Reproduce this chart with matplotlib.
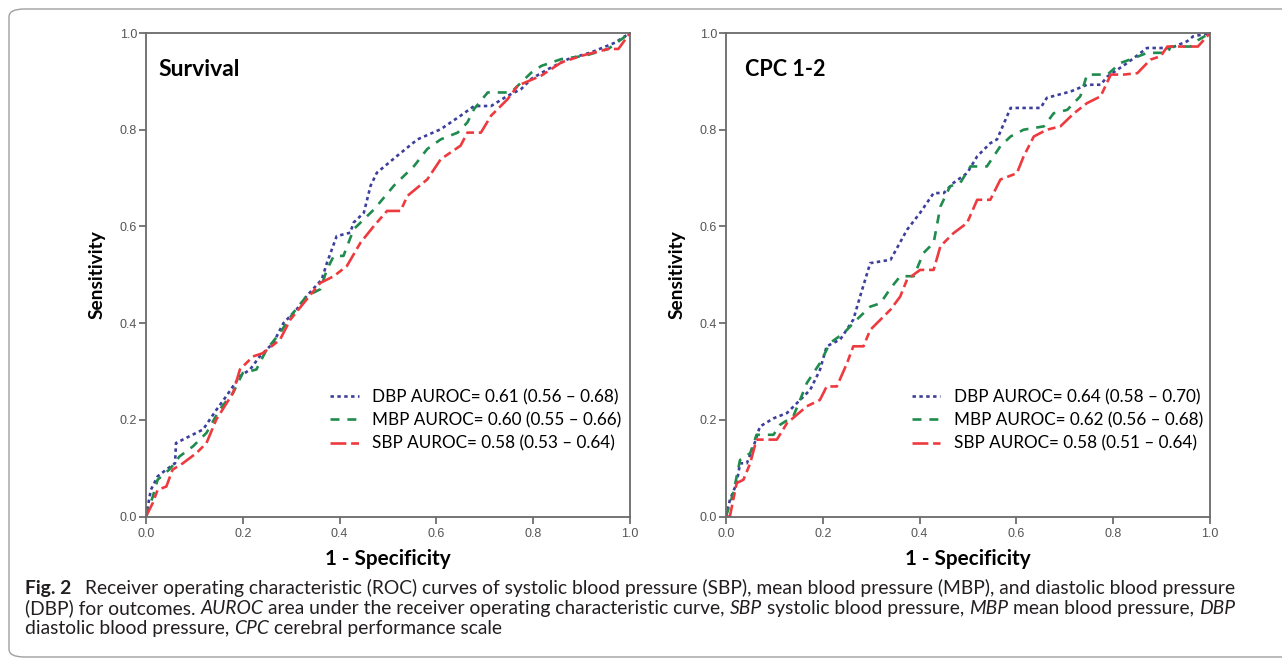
import matplotlib
matplotlib.use("Agg")
import matplotlib.pyplot as plt
from matplotlib.patches import FancyBboxPatch
from matplotlib.lines import Line2D

# ---------------- data ----------------
surv_dbp_x = [0, 0.01, 0.024, 0.042, 0.06, 0.062, 0.09, 0.118, 0.145, 0.166, 0.194, 0.215, 0.235, 0.263, 0.284,
              0.311, 0.332, 0.363, 0.374, 0.394, 0.422, 0.429, 0.45, 0.464, 0.477, 0.519, 0.561, 0.609, 0.65,
              0.678, 0.713, 0.747, 0.775, 0.796, 0.83, 0.872, 0.92, 0.969, 1.0]
surv_dbp_y = [0, 0.055, 0.083, 0.097, 0.11, 0.152, 0.166, 0.18, 0.22, 0.249, 0.29, 0.304, 0.331, 0.359, 0.40,
              0.428, 0.456, 0.49, 0.525, 0.58, 0.587, 0.608, 0.628, 0.684, 0.711, 0.746, 0.78, 0.801, 0.829,
              0.849, 0.849, 0.87, 0.884, 0.905, 0.925, 0.946, 0.96, 0.98, 1.0]

surv_mbp_x = [0, 0.014, 0.024, 0.048, 0.059, 0.069, 0.097, 0.125, 0.152, 0.18, 0.2, 0.228, 0.249, 0.277, 0.304,
              0.332, 0.36, 0.374, 0.388, 0.408, 0.429, 0.471, 0.512, 0.554, 0.581, 0.609, 0.644, 0.664, 0.678,
              0.706, 0.754, 0.796, 0.817, 0.858, 0.907, 0.955, 1.0]
surv_mbp_y = [0, 0.041, 0.076, 0.097, 0.11, 0.124, 0.145, 0.173, 0.221, 0.256, 0.297, 0.304, 0.345, 0.38, 0.421,
              0.456, 0.47, 0.511, 0.539, 0.539, 0.594, 0.635, 0.684, 0.725, 0.76, 0.78, 0.794, 0.815, 0.843,
              0.877, 0.877, 0.918, 0.932, 0.946, 0.953, 0.967, 1.0]

surv_sbp_x = [0, 0.014, 0.024, 0.042, 0.055, 0.076, 0.104, 0.125, 0.145, 0.18, 0.194, 0.221, 0.242, 0.277, 0.298,
              0.332, 0.36, 0.388, 0.415, 0.443, 0.471, 0.498, 0.526, 0.54, 0.581, 0.609, 0.65, 0.664, 0.692,
              0.713, 0.747, 0.768, 0.817, 0.858, 0.9, 0.955, 0.976, 1.0]
surv_sbp_y = [0, 0.028, 0.055, 0.062, 0.097, 0.11, 0.131, 0.152, 0.2, 0.256, 0.304, 0.331, 0.338, 0.366, 0.407,
              0.449, 0.483, 0.497, 0.518, 0.566, 0.601, 0.632, 0.632, 0.663, 0.697, 0.739, 0.767, 0.794, 0.794,
              0.829, 0.863, 0.891, 0.912, 0.939, 0.953, 0.967, 0.967, 1.0]

cpc_dbp_x = [0, 0.008, 0.022, 0.029, 0.043, 0.057, 0.07, 0.098, 0.126, 0.153, 0.174, 0.194, 0.208, 0.236, 0.263,
             0.277, 0.298, 0.34, 0.374, 0.401, 0.429, 0.45, 0.47, 0.498, 0.519, 0.546, 0.56, 0.588, 0.65, 0.663,
             0.712, 0.746, 0.774, 0.788, 0.829, 0.87, 0.919, 0.953, 0.965, 1.0]
cpc_dbp_y = [0, 0.034, 0.069, 0.11, 0.11, 0.145, 0.186, 0.203, 0.214, 0.241, 0.262, 0.303, 0.352, 0.366, 0.407,
             0.455, 0.524, 0.531, 0.593, 0.628, 0.669, 0.669, 0.69, 0.71, 0.745, 0.772, 0.78, 0.845, 0.845, 0.866,
             0.879, 0.893, 0.893, 0.91, 0.938, 0.969, 0.969, 0.983, 0.993, 1.0]

cpc_mbp_x = [0, 0.015, 0.029, 0.05, 0.063, 0.098, 0.112, 0.139, 0.153, 0.167, 0.194, 0.215, 0.243, 0.27, 0.298,
             0.319, 0.34, 0.36, 0.388, 0.408, 0.429, 0.443, 0.463, 0.484, 0.505, 0.539, 0.567, 0.588, 0.615,
             0.657, 0.677, 0.705, 0.732, 0.746, 0.788, 0.815, 0.843, 0.87, 0.912, 0.919, 0.96, 0.975, 1.0]
cpc_mbp_y = [0, 0.048, 0.117, 0.131, 0.169, 0.169, 0.19, 0.207, 0.241, 0.276, 0.317, 0.359, 0.379, 0.407, 0.434,
             0.441, 0.472, 0.497, 0.497, 0.545, 0.566, 0.641, 0.683, 0.69, 0.724, 0.724, 0.766, 0.786, 0.8,
             0.807, 0.834, 0.841, 0.869, 0.914, 0.914, 0.938, 0.948, 0.959, 0.959, 0.972, 0.972, 0.985, 1.0]

cpc_sbp_x = [0, 0.008, 0.022, 0.036, 0.05, 0.063, 0.105, 0.126, 0.167, 0.194, 0.208, 0.229, 0.25, 0.263, 0.284,
             0.298, 0.34, 0.36, 0.374, 0.401, 0.429, 0.443, 0.47, 0.498, 0.519, 0.546, 0.567, 0.601, 0.615,
             0.636, 0.663, 0.691, 0.719, 0.746, 0.774, 0.795, 0.822, 0.85, 0.877, 0.898, 0.912, 0.953, 0.975, 1.0]
cpc_sbp_y = [0, 0.0, 0.069, 0.076, 0.11, 0.159, 0.159, 0.193, 0.228, 0.241, 0.269, 0.269, 0.317, 0.352, 0.352,
             0.386, 0.428, 0.455, 0.49, 0.51, 0.51, 0.559, 0.586, 0.607, 0.655, 0.655, 0.697, 0.71, 0.745,
             0.786, 0.8, 0.807, 0.834, 0.855, 0.869, 0.914, 0.914, 0.917, 0.945, 0.952, 0.972, 0.972, 0.972, 1.0]

surv_labels = ["DBP AUROC= 0.61 (0.56 \u2013 0.68)", "MBP AUROC= 0.60 (0.55 \u2013 0.66)",
               "SBP AUROC= 0.58 (0.53 \u2013 0.64)"]
cpc_labels = ["DBP AUROC= 0.64 (0.58 \u2013 0.70)", "MBP AUROC= 0.62 (0.56 \u2013 0.68)",
              "SBP AUROC= 0.58 (0.51 \u2013 0.64)"]
panel_titles = ["Survival", "CPC 1-2"]
tick_vals = [0.0, 0.2, 0.4, 0.6, 0.8, 1.0]
tick_labels = ["0.0", "0.2", "0.4", "0.6", "0.8", "1.0"]

# caption segments: (text, style, space_before)
caption_lines = [
    [("Fig. 2", "bold", False), ("Receiver operating characteristic (ROC) curves of systolic blood pressure (SBP), "
                                 "mean blood pressure (MBP), and diastolic blood pressure", "normal", "wide")],
    [("(DBP) for outcomes.", "normal", False), ("AUROC", "italic", True),
     ("area under the receiver operating characteristic curve,", "normal", True), ("SBP", "italic", True),
     ("systolic blood pressure,", "normal", True), ("MBP", "italic", True),
     ("mean blood pressure,", "normal", True), ("DBP", "italic", True)],
    [("diastolic blood pressure,", "normal", False), ("CPC", "italic", True),
     ("cerebral performance scale", "normal", True)],
]

# ---------------- styling ----------------
W, H = 1282, 659
FONT = "Lato"
TICKFONT = "Liberation Sans"
colors = {"DBP": "#3d3f9c", "MBP": "#1f8b4d", "SBP": "#ee3a3f"}
styles = {"DBP": (0, (1.3, 1.3)), "MBP": (0, (3.4, 3.0)), "SBP": (0, (6.0, 1.8, 3.0, 1.8))}

fig = plt.figure(figsize=(W / 100, H / 100), dpi=100)
renderer = fig.canvas.get_renderer()


def fx(px):
    return px / W


def fy(py):
    return 1 - py / H


def text_width(s, **kw):
    t = fig.text(0, 0, s, **kw)
    w = t.get_window_extent(renderer).width
    t.remove()
    return w


def fit_size(s, target_px, base=12, **kw):
    return base * target_px / text_width(s, fontsize=base, **kw)


border = FancyBboxPatch((fx(9), fy(657)), fx(1300), (657 - 9) / H,
                        boxstyle="round,pad=0,rounding_size=0.012",
                        transform=fig.transFigure, fill=False, edgecolor="#a0a0a0", linewidth=1.0)
fig.patches.append(border)

ax_left_px = [146, 726]
ax_w_px = 484
ax_top_px, ax_bot_px = 33, 516.5
ax_h_px = ax_bot_px - ax_top_px
datasets = [
    [(surv_dbp_x, surv_dbp_y), (surv_mbp_x, surv_mbp_y), (surv_sbp_x, surv_sbp_y)],
    [(cpc_dbp_x, cpc_dbp_y), (cpc_mbp_x, cpc_mbp_y), (cpc_sbp_x, cpc_sbp_y)],
]
label_sets = [surv_labels, cpc_labels]
title_widths = [81, 80]
title_x_px = [158, 745]

leg_size = fit_size(surv_labels[0], 246, family=FONT)
xlab_size = fit_size("1 - Specificity", 125, family=FONT, fontweight="bold")
ylab_size = fit_size("Sensitivity", 88, family=FONT, fontweight="bold")

for i, lx in enumerate(ax_left_px):
    ax = fig.add_axes([fx(lx), fy(ax_bot_px), fx(ax_w_px), ax_h_px / H])
    for key, (xs, ys), lab in zip(["DBP", "MBP", "SBP"], datasets[i], label_sets[i]):
        ax.plot(xs, ys, color=colors[key], linestyle=styles[key], linewidth=1.9, label=lab)
    ax.set_xlim(0, 1)
    ax.set_ylim(0, 1)
    ax.set_xticks(tick_vals)
    ax.set_yticks(tick_vals)
    ax.set_xticklabels(tick_labels, fontfamily=TICKFONT, fontsize=9, color="#555555")
    ax.set_yticklabels(tick_labels, fontfamily=TICKFONT, fontsize=9, color="#555555")
    ax.tick_params(direction="out", length=5, width=1.1, color="#555555", pad=1.5)
    ax.tick_params(axis="x", pad=3.5)
    for s in ax.spines.values():
        s.set_color("#6a6a6a")
        s.set_linewidth(1.3)
    ax.set_xlabel("1 - Specificity", fontfamily=FONT, fontweight="bold", fontsize=xlab_size, labelpad=6)
    ax.set_ylabel("Sensitivity", fontfamily=FONT, fontweight="bold", fontsize=ylab_size, labelpad=10)
    tsize = fit_size(panel_titles[i], title_widths[i], family=FONT, fontweight="bold")
    ax.text((title_x_px[i] - lx) / ax_w_px, 0.925, panel_titles[i],
            transform=ax.transAxes, fontsize=tsize, fontweight="bold", fontfamily=FONT,
            va="center", ha="left")
    handles = [Line2D([], [], color=colors[k], linestyle=styles[k], linewidth=1.9)
               for k in ["DBP", "MBP", "SBP"]]
    leg_x = 0.381 if i == 0 else 0.384
    ax.legend(handles, label_sets[i], loc="upper left",
              bbox_to_anchor=(leg_x, (ax_bot_px - 389) / ax_h_px),
              frameon=False, prop={"family": FONT, "size": leg_size}, handlelength=1.65,
              handletextpad=0.8, labelspacing=0.42, borderpad=0, borderaxespad=0)

# ---------------- caption ----------------
def seg_kw(style, size):
    kw = {"family": FONT, "fontsize": size, "color": "#231f20"}
    if style == "bold":
        kw["fontweight"] = "bold"
    elif style == "italic":
        kw["fontstyle"] = "italic"
    return kw


def line_width(segs, size):
    sp = text_width("x x", fontsize=size, family=FONT) - text_width("xx", fontsize=size, family=FONT)
    total = 0
    for txt, style, space in segs:
        if space == "wide":
            total += size * 100 / 72 * 0.7
        elif space:
            total += sp
        total += text_width(txt, **seg_kw(style, size))
    return total, sp


base = 11
w0, _ = line_width(caption_lines[0], base)
cap_size = base * (1235 - 25) / w0
em = cap_size * 100 / 72
_, space_w = line_width([], cap_size)
line_centers = [587, 607, 627]
for segs, yc in zip(caption_lines, line_centers):
    x = 25
    for txt, style, space in segs:
        if space == "wide":
            x += em * 0.7
        elif space:
            x += space_w
        t = fig.text(fx(x), fy(yc + 0.36 * em), txt, va="baseline", ha="left", **seg_kw(style, cap_size))
        x += t.get_window_extent(renderer).width

fig.savefig("out.png", dpi=100)
